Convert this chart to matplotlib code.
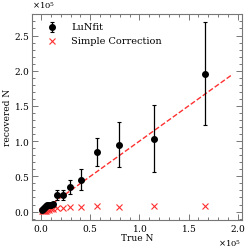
import numpy as np
import matplotlib.pyplot as plt

plt.rcParams['font.family'] = ['DejaVu Serif']

# data (in units of 1e5)
true_n = [0.01, 0.02, 0.03, 0.04, 0.05, 0.06, 0.08, 0.10, 0.12, 0.16, 0.22, 0.295, 0.405, 0.57, 0.79, 1.147, 1.665]
lunfit = [0.02, 0.03, 0.05, 0.06, 0.08, 0.09, 0.10, 0.10, 0.11, 0.23, 0.23, 0.355, 0.45, 0.84, 0.95, 1.035, 1.96]
lunfit_err = [0.005, 0.008, 0.01, 0.012, 0.015, 0.018, 0.02, 0.02, 0.025, 0.07, 0.07, 0.10, 0.15, 0.20, 0.32, 0.48, 0.73]
simple = [0.005, 0.008, 0.01, 0.012, 0.015, 0.02, 0.025, 0.03, 0.035, 0.05, 0.055, 0.06, 0.06, 0.075, 0.07, 0.075, 0.075]
line_x = [0.0, 1.95]

scale = 1e5
x = np.array(true_n) * scale

fig, ax = plt.subplots(figsize=(2.49, 2.49), dpi=100)
fig.subplots_adjust(left=0.13, right=0.97, top=0.945, bottom=0.115)

ax.plot(np.array(line_x) * scale, np.array(line_x) * scale, '--', color='#ff3030', lw=1, zorder=1)
eb = ax.errorbar(x, np.array(lunfit) * scale, yerr=np.array(lunfit_err) * scale, fmt='o', color='black',
                 ms=4, elinewidth=0.9, capsize=1.5, capthick=0.8, label='LuNfit', zorder=3)
sc, = ax.plot(x, np.array(simple) * scale, 'x', color='#ff3030', ms=4, mew=0.8, label='Simple Correction', zorder=2)

ax.set_xlim(-0.09 * scale, 2.04 * scale)
ax.set_ylim(-0.125 * scale, 2.81 * scale)
ax.set_xticks(np.arange(0, 2.01, 0.5) * scale)
ax.set_yticks(np.arange(0, 2.51, 0.5) * scale)
ax.set_xlabel('True N', fontsize=6.5, labelpad=0)
ax.set_ylabel('recovered N', fontsize=6.5, labelpad=1)

for axis in [ax.xaxis, ax.yaxis]:
    fmt = plt.ScalarFormatter(useMathText=True)
    fmt.set_powerlimits((0, 0))
    axis.set_major_formatter(fmt)
ax.xaxis.get_offset_text().set_fontsize(6)
ax.yaxis.get_offset_text().set_fontsize(6)

ax.minorticks_on()
ax.tick_params(which='both', direction='in', top=True, right=True, labelsize=6.5, color='#777777', width=0.7, pad=2)
ax.tick_params(which='major', length=4)
ax.tick_params(which='minor', length=2)
for s in ax.spines.values():
    s.set_color('#777777')
    s.set_linewidth(0.8)

ax.legend([eb, sc], ['LuNfit', 'Simple Correction'], loc='upper left', frameon=False, fontsize=7,
          handletextpad=1.0, borderaxespad=0.6, labelspacing=0.5)

plt.savefig('out.png', dpi=100)
